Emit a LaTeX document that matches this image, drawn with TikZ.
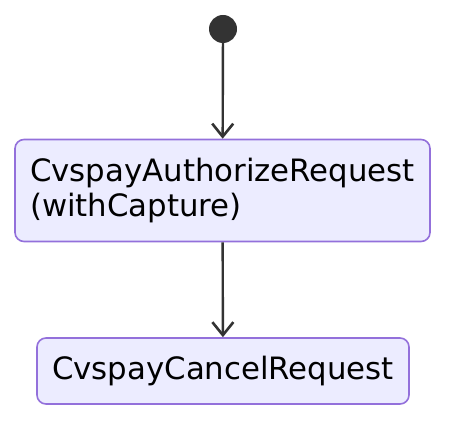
\documentclass[tikz,border=0pt]{standalone}
\usepackage{fontspec}
\setmainfont{DejaVu Sans}
\usetikzlibrary{arrows.meta}
\definecolor{boxfill}{HTML}{ECECFF}
\definecolor{boxline}{HTML}{9370DB}
\definecolor{ink}{HTML}{333333}
\tikzset{
  statebox/.style={draw=boxline, fill=boxfill, line width=1.6pt, rounded corners=9pt, inner ysep=0pt, font=\fontsize{30.8}{35.5}\selectfont, text=black},
  flow/.style={draw=ink, line width=2.4pt, -{Straight Barb[length=13pt,width=21pt,line width=2.6pt]}},
}
\begin{document}
\begin{tikzpicture}[x=1pt,y=1pt]
\useasboundingbox (0,0) rectangle (462,434);
\node[circle, fill=ink, minimum size=28pt, inner sep=0pt] (start) at (223,405) {};
\node[statebox, minimum width=415pt, minimum height=102pt, inner xsep=15pt, text width=385pt, align=left] (auth) at (222.5,243.5) {CvspayAuthorizeRequest\\(withCapture)};
\node[statebox, minimum width=372pt, minimum height=66pt, inner xsep=0pt] (cancel) at (223,63) {CvspayCancelRequest};
\draw[flow] (start) -- (auth);
\draw[flow] (auth) -- (cancel);
\end{tikzpicture}
\end{document}
